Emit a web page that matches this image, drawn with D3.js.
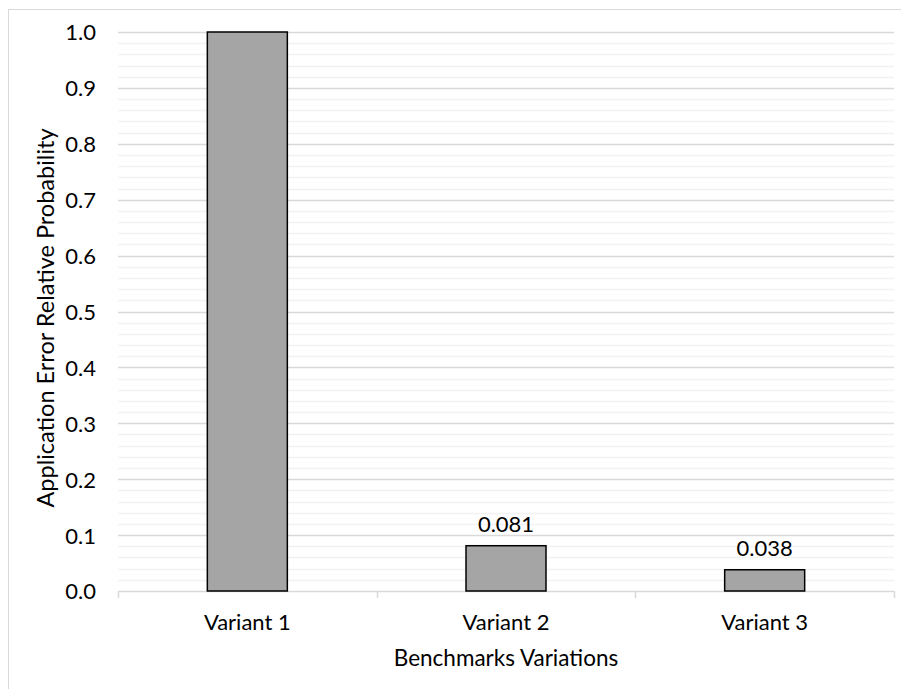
<!DOCTYPE html>
<html>
<head>
<meta charset="utf-8">
<script src="https://cdn.jsdelivr.net/npm/d3@7"></script>
<style>
  html, body { margin: 0; padding: 0; background: #fff; }
  svg { display: block; }
  text { font-family: Lato, "Open Sans", sans-serif; fill: #000; }
</style>
</head>
<body>
<svg id="chart" width="901" height="689"></svg>
<script>
// Chart data
const categories = ["Variant 1", "Variant 2", "Variant 3"];
const values = [1.0, 0.081, 0.038];
const valueLabels = [null, "0.081", "0.038"];
const yTicks = [0, 0.1, 0.2, 0.3, 0.4, 0.5, 0.6, 0.7, 0.8, 0.9, 1.0];
const yMinorTicks = d3.range(0, 1.0001, 0.02);
const xTitle = "Benchmarks Variations";
const yTitle = "Application Error Relative Probability";

const svg = d3.select("#chart");
const W = 901, H = 689;
const plot = { left: 118, right: 894, top: 32, bottom: 591 };
const fontSize = "22px";

// Outer chart frame
svg.append("rect")
  .attr("x", 8.5).attr("y", 9.5)
  .attr("width", W + 10).attr("height", H + 10)
  .attr("fill", "#fff").attr("stroke", "#d9d9d9").attr("stroke-width", 1);

const x = d3.scaleBand().domain(categories).range([plot.left, plot.right]).paddingInner(0).paddingOuter(0);
const y = d3.scaleLinear().domain([0, 1.0]).range([plot.bottom, plot.top]);

// Minor gridlines
svg.append("g").selectAll("line").data(yMinorTicks.filter(v => Math.round(v * 100) % 10 !== 0))
  .join("line")
  .attr("x1", plot.left).attr("x2", plot.right)
  .attr("y1", d => Math.round(y(d)) + 0.5).attr("y2", d => Math.round(y(d)) + 0.5)
  .attr("stroke", "#f2f2f2").attr("stroke-width", 1.5);

// Major gridlines
svg.append("g").selectAll("line").data(yTicks.filter(v => v > 0))
  .join("line")
  .attr("x1", plot.left).attr("x2", plot.right)
  .attr("y1", d => Math.round(y(d)) + 0.5).attr("y2", d => Math.round(y(d)) + 0.5)
  .attr("stroke", "#d9d9d9").attr("stroke-width", 1.5);

// Y axis labels
const yAxis = d3.axisLeft(y).tickValues(yTicks).tickFormat(d3.format(".1f")).tickSize(0).tickPadding(22);
const gy = svg.append("g").attr("transform", `translate(${plot.left},0)`).call(yAxis);
gy.select(".domain").remove();
gy.selectAll("text").style("font-size", fontSize).style("font-family", "Lato, sans-serif").attr("dy", "0.36em");

// X axis baseline with category separators
const gx = svg.append("g").attr("transform", `translate(0,${plot.bottom})`);
gx.append("line").attr("x1", plot.left).attr("x2", plot.right).attr("y1", 0.5).attr("y2", 0.5)
  .attr("stroke", "#d9d9d9").attr("stroke-width", 1.5);
const seps = categories.map(c => x(c)).concat([x(categories[categories.length - 1]) + x.bandwidth()]);
gx.selectAll("line.sep").data(seps).join("line").attr("class", "sep")
  .attr("x1", d => Math.round(d) + 0.5).attr("x2", d => Math.round(d) + 0.5)
  .attr("y1", 0).attr("y2", 7)
  .attr("stroke", "#d9d9d9").attr("stroke-width", 1.5);
gx.selectAll("text.cat").data(categories).join("text").attr("class", "cat")
  .attr("x", d => x(d) + x.bandwidth() / 2).attr("y", 39)
  .attr("text-anchor", "middle").style("font-size", fontSize).text(d => d);

// Bars
const barW = 80;
svg.append("g").selectAll("rect").data(values).join("rect")
  .attr("x", (d, i) => x(categories[i]) + x.bandwidth() / 2 - barW / 2)
  .attr("y", d => y(d))
  .attr("width", barW)
  .attr("height", d => y(0) - y(d))
  .attr("fill", "#a5a5a5").attr("stroke", "#000").attr("stroke-width", 1.5);

// Value labels
svg.append("g").selectAll("text").data(values.map((v, i) => ({ v, i, t: valueLabels[i] })).filter(d => d.t))
  .join("text")
  .attr("x", d => x(categories[d.i]) + x.bandwidth() / 2)
  .attr("y", d => y(d.v) - 14)
  .attr("text-anchor", "middle").style("font-size", fontSize).text(d => d.t);

// Axis titles
svg.append("text").attr("x", (plot.left + plot.right) / 2).attr("y", 666)
  .attr("text-anchor", "middle").style("font-size", "22.5px").text(xTitle);
svg.append("text").attr("transform", `translate(54,318) rotate(-90)`)
  .attr("text-anchor", "middle").style("font-size", "23.5px").text(yTitle);
</script>
</body>
</html>
